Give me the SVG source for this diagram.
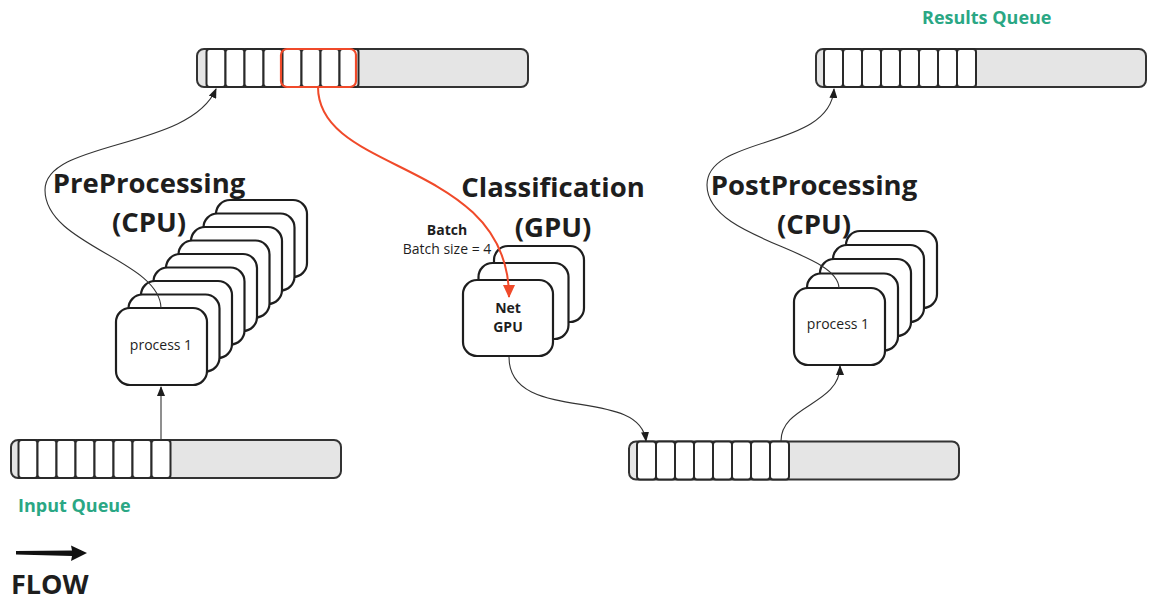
<svg xmlns="http://www.w3.org/2000/svg" width="1156" height="606" viewBox="0 0 1156 606">
<style>
  .q{fill:#e5e5e5;stroke:#333;stroke-width:2}
  .c{fill:#fff;stroke:#2a2a2a;stroke-width:2}
  .b{fill:#fff;stroke:#1e1e1e;stroke-width:2.2}
  .t{font-family:"Open Sans","Noto Sans",sans-serif;fill:#1e1e1e}
  .h{font-size:27.5px;font-weight:bold;text-anchor:middle}
  .g{font-family:"Open Sans","Noto Sans",sans-serif;fill:#2aa784;font-size:18px;font-weight:bold}
  .s{font-size:14px;text-anchor:middle}
  .k{fill:none;stroke:#333;stroke-width:1.1}
  .r{fill:none;stroke:#f04a2a;stroke-width:2}
</style>
<defs>
  <marker id="a" markerWidth="10" markerHeight="8" refX="9" refY="4" orient="auto" markerUnits="userSpaceOnUse">
    <path d="M0,0 L10,4 L0,8 Z" fill="#1e1e1e"/>
  </marker>
  <marker id="ar" markerWidth="13" markerHeight="12" refX="12" refY="6" orient="auto" markerUnits="userSpaceOnUse">
    <path d="M0,0 L13,6 L0,12 Z" fill="#f04a2a"/>
  </marker>
  <g id="cells">
    <rect class="c" x="0" y="0" width="19" height="38" rx="3"/>
    <rect class="c" x="19" y="0" width="19" height="38" rx="3"/>
    <rect class="c" x="38" y="0" width="19" height="38" rx="3"/>
    <rect class="c" x="57" y="0" width="19" height="38" rx="3"/>
    <rect class="c" x="76" y="0" width="19" height="38" rx="3"/>
    <rect class="c" x="95" y="0" width="19" height="38" rx="3"/>
    <rect class="c" x="114" y="0" width="19" height="38" rx="3"/>
    <rect class="c" x="133" y="0" width="19" height="38" rx="3"/>
  </g>
</defs>
<rect width="1156" height="606" fill="#fff"/>

<g id="batch-queue">
  <rect class="q" x="197" y="49" width="331" height="38" rx="7"/>
  <use href="#cells" x="206.5" y="49"/>
  <rect x="281" y="49" width="75" height="38" rx="6" fill="none" stroke="#f04a2a" stroke-width="2.2"/>
</g>
<g id="input-queue">
  <rect class="q" x="11" y="440" width="330" height="38" rx="7"/>
  <use href="#cells" x="18.5" y="440"/>
  <text class="g" x="18" y="512">Input Queue</text>
</g>
<g id="mid-queue">
  <rect class="q" x="629" y="441.5" width="330" height="38" rx="7"/>
  <use href="#cells" x="637" y="441.5"/>
</g>
<g id="results-queue">
  <rect class="q" x="816" y="49" width="330" height="38" rx="7"/>
  <use href="#cells" x="824" y="49"/>
  <text class="g" x="922" y="24">Results Queue</text>
</g>

<g id="preprocessing">
  <rect class="b" x="216" y="200" width="91" height="77" rx="14"/>
  <rect class="b" x="203.5" y="213.5" width="91" height="77" rx="14"/>
  <rect class="b" x="191" y="227" width="91" height="77" rx="14"/>
  <rect class="b" x="178.5" y="240.5" width="91" height="77" rx="14"/>
  <rect class="b" x="166" y="254" width="91" height="77" rx="14"/>
  <rect class="b" x="153.5" y="267.5" width="91" height="77" rx="14"/>
  <rect class="b" x="141" y="281" width="91" height="77" rx="14"/>
  <rect class="b" x="128.5" y="294.5" width="91" height="77" rx="14"/>
  <rect class="b" x="116" y="308" width="91" height="77" rx="14"/>
  <text class="t s" x="161" y="350">process 1</text>
  <text class="t h" x="149" y="193">PreProcessing</text>
  <text class="t h" x="149" y="232">(CPU)</text>
</g>

<g id="classification">
  <rect class="b" x="494" y="246" width="90" height="76" rx="14"/>
  <rect class="b" x="478.5" y="263" width="90" height="76" rx="14"/>
  <rect class="b" x="463" y="280" width="90" height="76" rx="14"/>
  <text class="t s" x="508" y="313" font-weight="bold">Net</text>
  <text class="t s" x="508" y="332" font-weight="bold">GPU</text>
  <text class="t h" x="553" y="197">Classification</text>
  <text class="t h" x="553" y="237">(GPU)</text>
  <text class="t s" x="447" y="235" font-weight="bold">Batch</text>
  <text class="t s" x="447" y="254">Batch size = 4</text>
</g>

<g id="postprocessing">
  <rect class="b" x="846" y="231" width="91" height="77" rx="14"/>
  <rect class="b" x="833" y="245" width="91" height="77" rx="14"/>
  <rect class="b" x="820" y="259" width="91" height="77" rx="14"/>
  <rect class="b" x="807" y="273.5" width="91" height="77" rx="14"/>
  <rect class="b" x="794" y="288" width="91" height="77" rx="14"/>
  <text class="t s" x="838" y="329">process 1</text>
  <text class="t h" x="814" y="195">PostProcessing</text>
  <text class="t h" x="814" y="234">(CPU)</text>
</g>

<g id="connectors">
  <path class="k" d="M161,440 C161,420 161,405 161,387" marker-end="url(#a)"/>
  <path class="k" d="M161,308 C160,260 45,245 45,190 C45,140 190,150 216,89" marker-end="url(#a)"/>
  <path class="r" d="M318,87 C318,175 509,160 509,297" marker-end="url(#ar)"/>
  <path class="k" d="M509,357 C509,425 640,385 646,441" marker-end="url(#a)"/>
  <path class="k" d="M781,441 C781,405 840,405 840,366" marker-end="url(#a)"/>
  <path class="k" d="M839,288 C838,250 707,240 707,185 C707,135 830,150 834,89" marker-end="url(#a)"/>
</g>

<g id="flow">
  <path d="M16,551 L72,550.5 L71,545.5 L87,553 L71,561 L72,556 L16,554.5 Z" fill="#111"/>
  <text class="t" x="11" y="594" font-size="27" font-weight="bold">FLOW</text>
</g>
</svg>
